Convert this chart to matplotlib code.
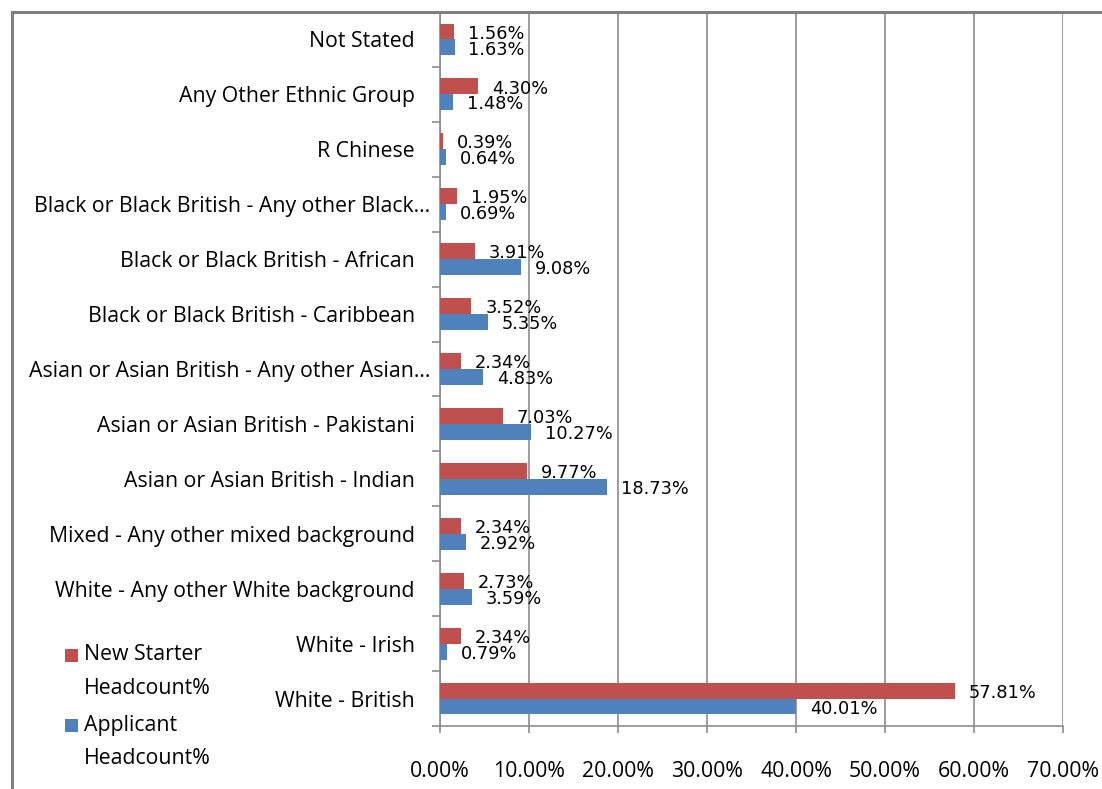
import matplotlib
matplotlib.use("Agg")
import matplotlib.pyplot as plt
import matplotlib.patches as mpatches
import matplotlib.lines as mlines
import matplotlib.transforms as mtransforms
import numpy as np

categories = ["Not Stated",
              "Any Other Ethnic Group",
              "R Chinese",
              "Black or Black British - Any other Black...",
              "Black or Black British - African",
              "Black or Black British - Caribbean",
              "Asian or Asian British - Any other Asian...",
              "Asian or Asian British - Pakistani",
              "Asian or Asian British - Indian",
              "Mixed - Any other mixed background",
              "White - Any other White background",
              "White - Irish",
              "White - British"]
new_starter = [1.56, 4.30, 0.39, 1.95, 3.91, 3.52, 2.34, 7.03, 9.77, 2.34, 2.73, 2.34, 57.81]
applicant = [1.63, 1.48, 0.64, 0.69, 9.08, 5.35, 4.83, 10.27, 18.73, 2.92, 3.59, 0.79, 40.01]
xticks = [0, 10, 20, 30, 40, 50, 60, 70]

red = "#C0504D"
blue = "#4F81BD"
grid_c = "#8c8c8c"
lab_font = "Open Sans"
fs = 15.3

fig = plt.figure(figsize=(11.02, 7.89), dpi=100)
fig.patch.set_facecolor("white")
ax = fig.add_axes([440/1102, 1-726/789, (1063-440)/1102, 714/789])

y = np.arange(len(categories))
h = 0.29
b1 = ax.barh(y - h/2, new_starter, height=h, color=red, zorder=3)
b2 = ax.barh(y + h/2, applicant, height=h, color=blue, zorder=3)

for bar, v in zip(b1, new_starter):
    ax.annotate("%.2f%%" % v, (bar.get_width(), bar.get_y() + bar.get_height()/2),
                xytext=(10, -1.5), textcoords="offset points", va="center", ha="left",
                fontsize=12.8, family="DejaVu Sans", color="black", zorder=4)
for bar, v in zip(b2, applicant):
    ax.annotate("%.2f%%" % v, (bar.get_width(), bar.get_y() + bar.get_height()/2),
                xytext=(10, -1.5), textcoords="offset points", va="center", ha="left",
                fontsize=12.8, family="DejaVu Sans", color="black", zorder=4)

ax.set_xlim(0, 70)
ax.set_ylim(len(categories) - 0.5, -0.5)
ax.set_xticks(xticks)
ax.set_xticklabels(["%.2f%%" % t for t in xticks], family=lab_font, fontsize=fs)
ax.set_yticks(y)
ax.set_yticklabels(categories, family=lab_font, fontsize=fs)
ax.set_yticks(np.arange(len(categories) + 1) - 0.5, minor=True)
ax.tick_params(axis="y", which="major", length=0, pad=18)
ax.tick_params(axis="y", which="minor", length=6, color=grid_c, width=1.2)
ax.tick_params(axis="x", which="major", length=5, color=grid_c, width=1.2, pad=20)

# truncated labels: the ellipsis sticks out towards the axis, like Excel does
shift = mtransforms.ScaledTranslation(15/100, 0, fig.dpi_scale_trans)
for lbl in ax.get_yticklabels():
    if lbl.get_text().endswith("..."):
        lbl.set_transform(lbl.get_transform() + shift)

ax.grid(axis="x", color=grid_c, lw=1.2, zorder=0)
for s in ["top", "right"]:
    ax.spines[s].set_visible(False)
for s in ["left", "bottom"]:
    ax.spines[s].set_color(grid_c)
    ax.spines[s].set_linewidth(1.2)

# outer frame (only left and top edges fall inside the image)
fx = 12/1102
fy = 1 - 12/789
fig.add_artist(mlines.Line2D([fx, fx], [0, fy], transform=fig.transFigure,
                             color="#808080", lw=2.2))
fig.add_artist(mlines.Line2D([fx, 1], [fy, fy], transform=fig.transFigure,
                             color="#808080", lw=2.2))

# legend
leg_items = [(["New Starter", "Headcount%"], red, 655),
             (["Applicant", "Headcount%"], blue, 725)]
for lines, col, ypx in leg_items:
    fig.add_artist(mpatches.Rectangle((65/1102, 1 - (ypx + 7)/789), 13/1102, 13/789,
                                      transform=fig.transFigure, facecolor=col,
                                      edgecolor="none"))
    for k, line in enumerate(lines):
        fig.text(84/1102, 1 - (ypx + 33*k)/789, line, family=lab_font, fontsize=fs,
                 va="center", ha="left")

fig.savefig("out.png", dpi=100, facecolor="white")
